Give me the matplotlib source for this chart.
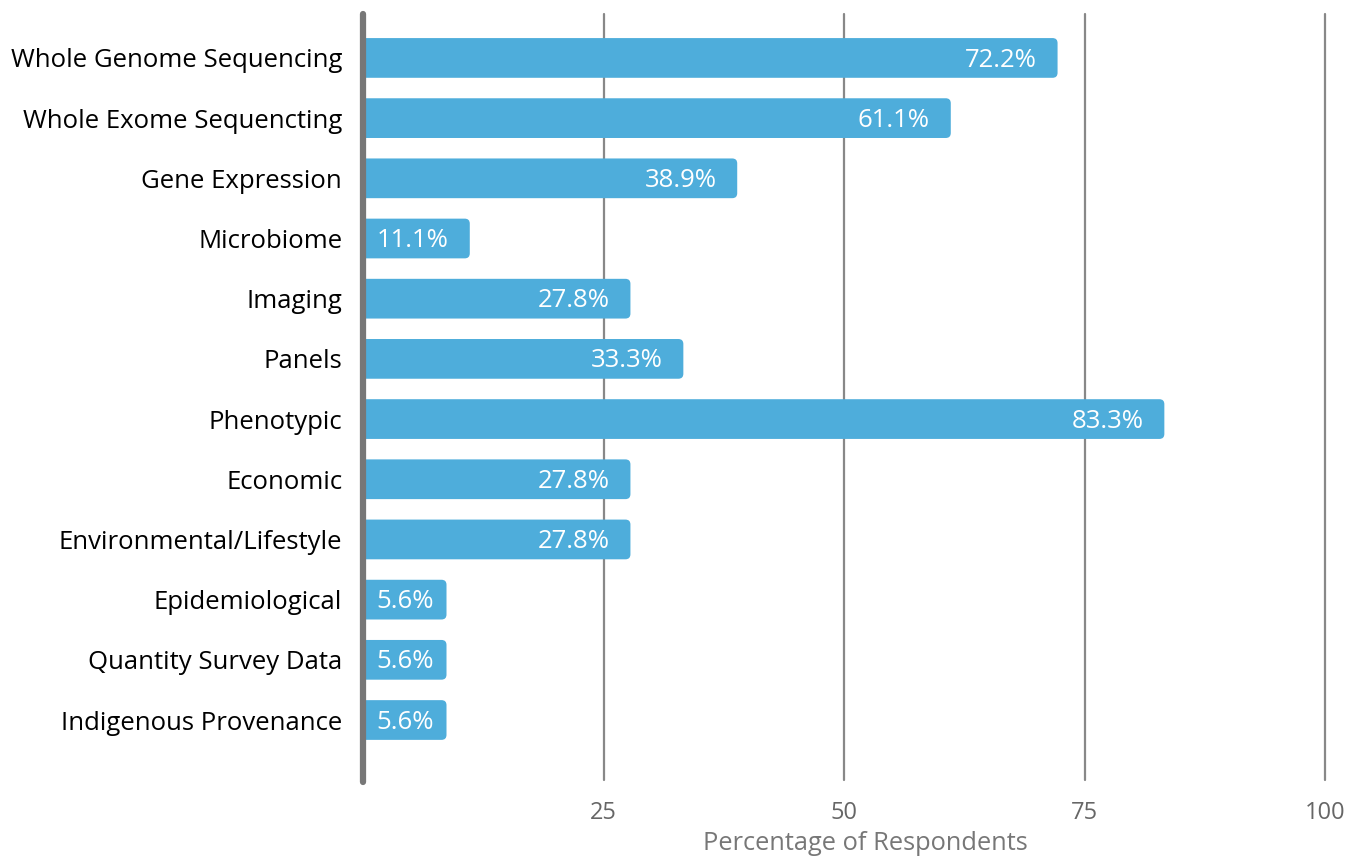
import matplotlib
matplotlib.use("Agg")
import matplotlib.pyplot as plt
from matplotlib.patches import FancyBboxPatch

categories = ["Whole Genome Sequencing", "Whole Exome Sequencting", "Gene Expression",
              "Microbiome", "Imaging", "Panels", "Phenotypic", "Economic",
              "Environmental/Lifestyle", "Epidemiological", "Quantity Survey Data",
              "Indigenous Provenance"]
values = [72.2, 61.1, 38.9, 11.1, 27.8, 33.3, 83.3, 27.8, 27.8, 5.6, 5.6, 5.6]
xticks = [25, 50, 75, 100]
xlabel = "Percentage of Respondents"

plt.rcParams['font.family'] = ['Open Sans', 'DejaVu Sans']

fig = plt.figure(figsize=(13.5, 8.57), dpi=100)
ax = fig.add_axes([363/1350, 1-782/857, (1325-363)/1350, (782-14)/857])

n = len(categories)
ax.set_xlim(0, 100)
ax.set_ylim(n - 1 + 1.03, -0.73)

bar_h = 0.66
color = "#4eaddb"
px_x = (1325-363)/100.0
px_y = (782-14)/(n - 1 + 1.03 + 0.73)
rad_px = 5

fig.canvas.draw()
renderer = fig.canvas.get_renderer()
for i, v in enumerate(values):
    txt = ax.annotate(f"{v}%", xy=(v, i), xytext=(-15, -1.5), textcoords="offset points",
                      ha="right", va="center", color="white", fontsize=18.5, zorder=3)
    # bars too short for their label are widened so the label fits inside
    w_px = txt.get_window_extent(renderer).width
    end = max(v, (w_px + 14 + 12) / px_x)
    txt.xy = (end, i)
    txt.set_position((-9 if end > v else -15, -1.5))
    p = FancyBboxPatch((-2, i - bar_h/2), end + 2, bar_h,
                       boxstyle=f"round,pad=0,rounding_size={rad_px/px_x}",
                       mutation_aspect=px_x/px_y,
                       facecolor=color, edgecolor="none", zorder=2, clip_on=True)
    ax.add_patch(p)

for t in xticks:
    ax.plot([t, t], [n - 1 + 1.0, -0.73], color="#888888", lw=1.6,
            solid_capstyle="round", zorder=1, clip_on=False)

ax.plot([0, 0], [n - 1 + 1.03, -0.73], color="#777777", lw=4.5,
        solid_capstyle="round", zorder=4, clip_on=False)

for s in ax.spines.values():
    s.set_visible(False)

ax.set_yticks(range(n))
ax.set_yticklabels(categories, fontsize=18.5, color="black")
ax.tick_params(axis="y", length=0, pad=15)
ax.set_xticks(xticks)
ax.set_xticklabels([str(t) for t in xticks], fontsize=17, color="#666666")
ax.tick_params(axis="x", length=0, pad=14)
ax.set_xlabel(xlabel, fontsize=18.3, color="#777777")
ax.xaxis.set_label_coords((865-363)/(1325-363), -(843-782)/(782-14))
ax.xaxis.label.set_va("center")

fig.savefig("out.png", dpi=100)
